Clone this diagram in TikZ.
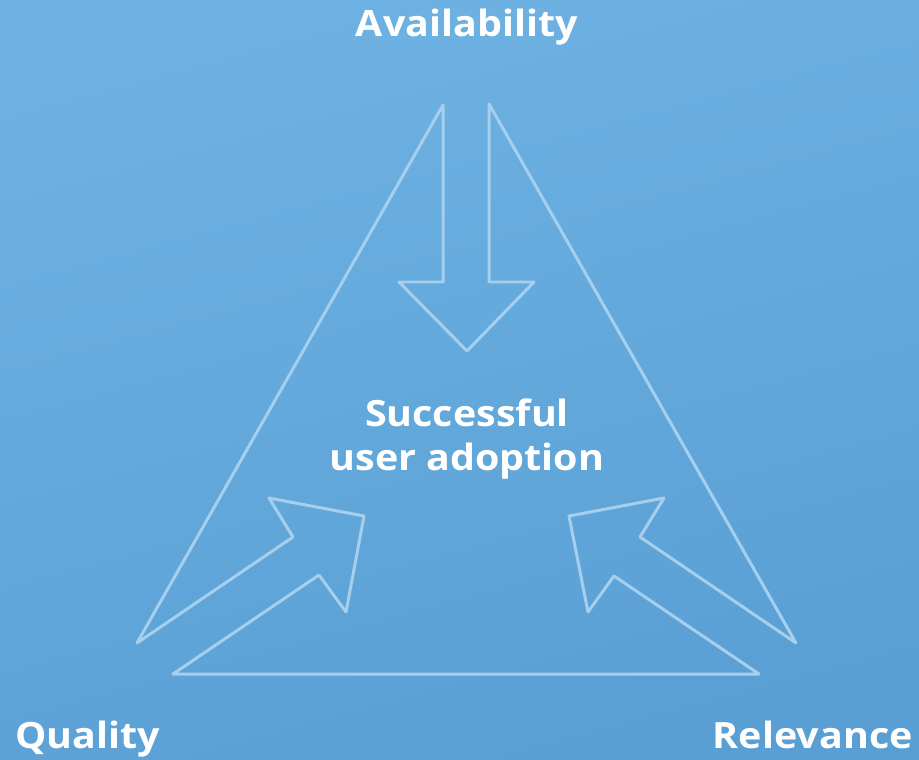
\documentclass[tikz,border=0pt]{standalone}
\usepackage{fontspec}
\setmainfont{Open Sans}[FakeStretch=1.09]
\definecolor{bgtop}{HTML}{6DB2E2}
\definecolor{bgbottom}{HTML}{5A9FD4}
\definecolor{outline}{HTML}{A6CFEE}
\tikzset{bigtext/.style={text=white,font=\bfseries\fontsize{20.6}{25.5}\selectfont,inner sep=0}}
\begin{document}
\begin{tikzpicture}[x=0.02cm,y=-0.02cm]
\shade[top color=bgtop,bottom color=bgbottom,shading angle=15] (0,0) rectangle (919,760);

% three arrows pointing inwards, one outline
\draw[outline,line width=1.7pt,line join=round]
	(443,105) -- (443,282) -- (399,282) -- (467,351) -- (534,282) -- (489,282) -- (489,104)
	-- (796,643) -- (640,537) -- (664,498) -- (569,516) -- (588,612) -- (614,576) -- (759,674)
	-- (173,674) -- (319,575) -- (346,612) -- (364,516) -- (269,498) -- (293,537) -- (137,643)
	-- cycle;

\node[bigtext,anchor=base] (avail) at (467,37) {Availability};
\node[bigtext,anchor=base west] (quality) at (15,748) {Quality};
\node[bigtext,anchor=base east] (relevance) at (913,748) {Relevance};
\node[bigtext,align=center] (adoption) at (467,439) {Successful\\user adoption};
\end{tikzpicture}
\end{document}
